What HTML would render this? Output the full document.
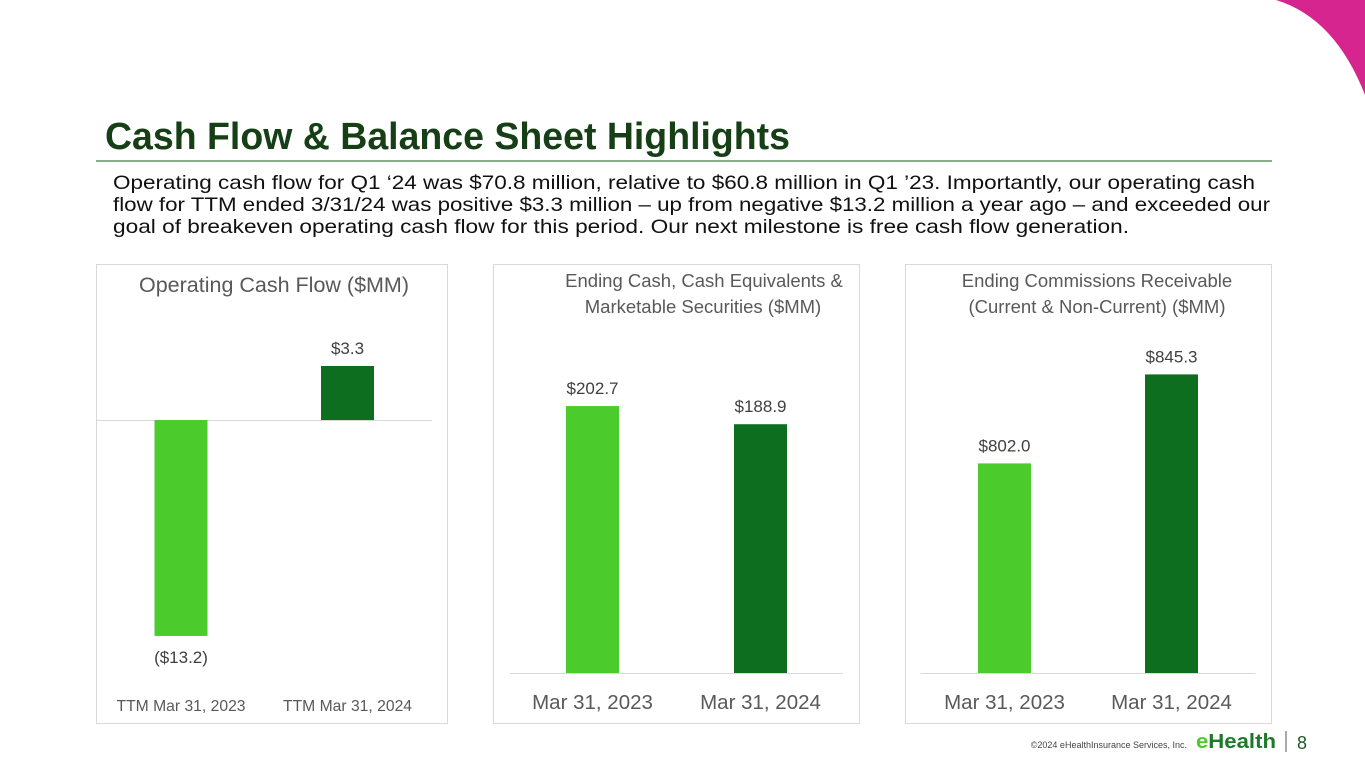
<!DOCTYPE html>
<html><head><meta charset="utf-8"><style>
html,body{margin:0;padding:0;background:#fff;}
svg{display:block;font-family:"Liberation Sans",sans-serif;}
</style></head><body>
<svg id="s" width="1365" height="768" viewBox="0 0 1365 768">
<path d="M1276,0 L1365,0 L1365,95 Q1335,18 1276,0 Z" fill="#d6258e"/>
<text x="105" y="149" font-size="38" font-weight="bold" fill="#163f16" textLength="685" lengthAdjust="spacingAndGlyphs">Cash Flow &amp; Balance Sheet Highlights</text>
<line x1="96" y1="161" x2="1272" y2="161" stroke="#3f7d45" stroke-width="1.2"/>
<g font-size="19.5" fill="#111">
<text x="113" y="189" textLength="1142" lengthAdjust="spacingAndGlyphs">Operating cash flow for Q1 ‘24 was $70.8 million, relative to $60.8 million in Q1 ’23.  Importantly, our operating cash</text>
<text x="113" y="211" textLength="1157" lengthAdjust="spacingAndGlyphs">flow for TTM ended 3/31/24 was positive $3.3 million – up from negative $13.2 million a year ago – and exceeded our</text>
<text x="113" y="233" textLength="1016" lengthAdjust="spacingAndGlyphs">goal of breakeven operating cash flow for this period.  Our next milestone is free cash flow generation.</text>
</g>
<rect x="96.5" y="264.5" width="351" height="459" fill="none" stroke="#d9d9d9"/>
<rect x="493.5" y="264.5" width="366" height="459" fill="none" stroke="#d9d9d9"/>
<rect x="905.5" y="264.5" width="366" height="459" fill="none" stroke="#d9d9d9"/>
<text x="274" y="292" font-size="21.5" fill="#595959" text-anchor="middle">Operating Cash Flow ($MM)</text>
<text x="704" y="287" font-size="18.5" fill="#595959" text-anchor="middle">Ending Cash, Cash Equivalents &amp;</text>
<text x="703" y="313" font-size="18.5" fill="#595959" text-anchor="middle">Marketable Securities ($MM)</text>
<text x="1097" y="287" font-size="18.5" fill="#595959" text-anchor="middle">Ending Commissions Receivable</text>
<text x="1097" y="313" font-size="18.5" fill="#595959" text-anchor="middle">(Current &amp; Non-Current) ($MM)</text>
<g id="charts"></g>
<text x="1187" y="748" font-size="9" fill="#444" text-anchor="end">©2024 eHealthInsurance Services, Inc.</text>
<text x="1196" y="748" font-size="20" font-weight="bold" fill="#1e7a2a" textLength="80" lengthAdjust="spacingAndGlyphs"><tspan fill="#4ccc2c">e</tspan>Health</text>
<line x1="1286" y1="731" x2="1286" y2="752" stroke="#555"/>
<text x="1297" y="749" font-size="18" fill="#1e5a22">8</text>
</svg>
<script>
var c1Categories = ["TTM Mar 31, 2023", "TTM Mar 31, 2024"];
var c1Values = [-13.2, 3.3];
var c1Labels = ["($13.2)", "$3.3"];
var c2Categories = ["Mar 31, 2023", "Mar 31, 2024"];
var c2Values = [202.7, 188.9];
var c2Labels = ["$202.7", "$188.9"];
var c3Categories = ["Mar 31, 2023", "Mar 31, 2024"];
var c3Values = [802.0, 845.3];
var c3Labels = ["$802.0", "$845.3"];
var colors = ["#4ccc2c", "#0c6e1e"];
var NS = "http://www.w3.org/2000/svg";
var g = document.getElementById("charts");
function mk(tag, attrs){var e=document.createElementNS(NS,tag);for(var k in attrs)e.setAttribute(k,attrs[k]);g.appendChild(e);return e;}
function drawChart(id, cats, vals, labs, cfg){
  var y = function(v){return cfg.base - (v - cfg.min) * cfg.scale;};
  var bl = mk("line",{x1:cfg.x0,x2:cfg.x1,y1:y(cfg.axisVal)+0.5,y2:y(cfg.axisVal)+0.5,stroke:"#d9d9d9","stroke-width":1});
  
  
  for (var i=0;i<vals.length;i++){
    var cx = cfg.cx[i];
    var y0 = y(cfg.axisVal), yv = y(vals[i]);
    var r = mk("rect",{x:cx-26.5,y:Math.min(y0,yv),width:53,height:Math.abs(y0-yv),fill:colors[i]});
    
    
    var ly = vals[i] < cfg.axisVal ? yv + 27 : yv - 12;
    var t = mk("text",{x:cx,y:ly,"font-size":17,fill:"#404040","text-anchor":"middle"});
    t.textContent = labs[i];
    
    
    var ct = mk("text",{x:cx,y:cfg.catY,"font-size":cfg.catSize,fill:"#595959","text-anchor":"middle"});
    ct.textContent = cats[i];
    
    
  }
}
drawChart("chart1", c1Categories, c1Values, c1Labels, {base:420,min:0,axisVal:0,scale:16.36,x0:97,x1:432,cx:[181,347.5],catY:711,catSize:15.7});
drawChart("chart2", c2Categories, c2Values, c2Labels, {base:673,min:0,axisVal:0,scale:1.317,x0:510,x1:843,cx:[592.5,760.5],catY:709,catSize:20.5});
drawChart("chart3", c3Categories, c3Values, c3Labels, {base:673,min:700,axisVal:700,scale:2.055,x0:921,x1:1255,cx:[1004.5,1171.5],catY:709,catSize:20.5});
</script>
</body></html>
